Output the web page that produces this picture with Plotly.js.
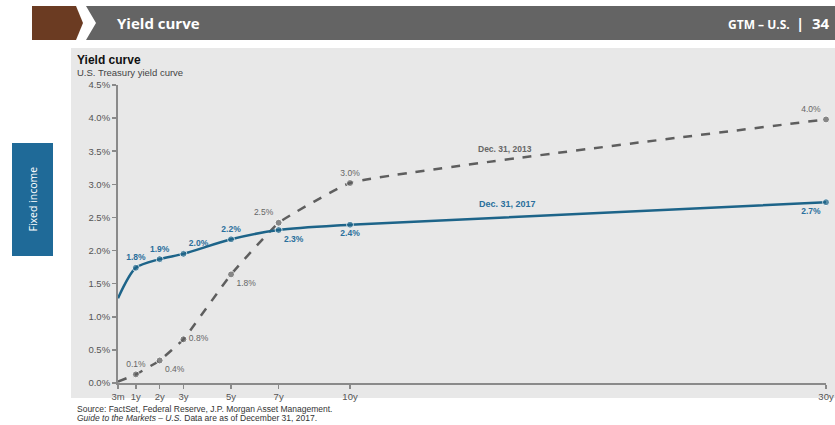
<!DOCTYPE html>
<html><head><meta charset="utf-8">
<script src="https://cdn.plot.ly/plotly-3.0.1.min.js"></script>
<style>html,body{margin:0;padding:0;background:#fff;}#c{width:835px;height:425px;}</style>
</head><body><div id="c"></div>
<script>
// Data
const maturities = [0.25, 1, 2, 3, 5, 7, 10, 30];
const tickLabels = ['3m', '1y', '2y', '3y', '5y', '7y', '10y', '30y'];
const yields2017 = [1.28, 1.74, 1.87, 1.95, 2.17, 2.31, 2.39, 2.73];
const labels2017 = ['', '1.8%', '1.9%', '2.0%', '2.2%', '2.3%', '2.4%', '2.7%'];
const yields2013 = [0.02, 0.13, 0.34, 0.66, 1.64, 2.42, 3.02, 3.98];
const labels2013 = ['', '0.1%', '0.4%', '0.8%', '1.8%', '2.5%', '3.0%', '4.0%'];
const yTicks = [0, 0.5, 1, 1.5, 2, 2.5, 3, 3.5, 4, 4.5];

const W = 835, H = 425;
const L = 118, R = 826, T = 85, B = 383;
const px = x => (x - L) / (R - L);
const py = y => (B - y) / (B - T);
function path(pts) {
  return 'M' + pts.map(p => px(p[0]) + ',' + py(p[1])).join(' L') + ' Z';
}

const blue = '#1d6489';
const gray = '#5e5e5e';
const markerSizes = maturities.map((m, i) => i === 0 ? 0 : 7);

const traces = [
  {
    x: maturities, y: yields2013, text: labels2013, mode: 'lines+markers+text',
    line: {color: gray, width: 2.5, dash: 'dash', shape: 'spline', smoothing: 0.3},
    marker: {color: gray, size: markerSizes},
    textposition: ['top center', 'top center', 'bottom right', 'middle right', 'bottom right', 'top left', 'top center', 'top left'],
    textfont: {family: 'Liberation Sans, Arial', size: 8.5, color: '#666666'},
    cliponaxis: false, hoverinfo: 'none'
  },
  {
    x: maturities, y: yields2017, text: labels2017.map(s => s ? '<b>' + s + '</b>' : ''), mode: 'lines+markers+text',
    line: {color: blue, width: 2.5, shape: 'spline', smoothing: 0.8},
    marker: {color: blue, size: markerSizes},
    textposition: ['top center', 'top center', 'top center', 'top right', 'top center', 'bottom right', 'bottom center', 'bottom left'],
    textfont: {family: 'Liberation Sans, Arial', size: 8.5, color: '#2a6f9c'},
    cliponaxis: false, hoverinfo: 'none'
  }
];

const shapes = [
  {type: 'rect', xref: 'paper', yref: 'paper', x0: px(71), x1: px(835), y0: py(398), y1: py(48), fillcolor: '#e8e8e8', line: {width: 0}, layer: 'below'},
  {type: 'path', xref: 'paper', yref: 'paper', path: path([[32,6],[76,6],[83,23],[76,40],[32,40]]), fillcolor: '#6b3b22', line: {width: 0}},
  {type: 'path', xref: 'paper', yref: 'paper', path: path([[86,6],[835,6],[835,40],[86,40],[96,23]]), fillcolor: '#646464', line: {width: 0}},
  {type: 'rect', xref: 'paper', yref: 'paper', x0: px(12), x1: px(53), y0: py(256), y1: py(143), fillcolor: '#1f6a98', line: {width: 0}}
];

const annotations = [
  {xref: 'paper', yref: 'paper', x: px(115), y: py(23), xanchor: 'left', yanchor: 'middle', showarrow: false,
   text: '<b>Yield curve</b>', font: {family: 'Open Sans, Noto Sans', size: 15, color: '#ffffff'}},
  {xref: 'paper', yref: 'paper', x: px(832), y: py(23), xanchor: 'right', yanchor: 'middle', showarrow: false,
   text: '<b><span style="font-size:12px">GTM – U.S.</span>  <span style="font-size:15px">|  34</span></b>', font: {family: 'Open Sans, Noto Sans', size: 12, color: '#ffffff'}},
  {xref: 'paper', yref: 'paper', x: px(32.5), y: py(199), xanchor: 'center', yanchor: 'middle', showarrow: false, textangle: -90,
   text: 'Fixed income', font: {family: 'Open Sans, Noto Sans', size: 10.5, color: '#ffffff'}},
  {xref: 'paper', yref: 'paper', x: px(75), y: py(60), xanchor: 'left', yanchor: 'middle', showarrow: false,
   text: '<b>Yield curve</b>', font: {family: 'Liberation Sans, Arial', size: 12, color: '#111'}},
  {xref: 'paper', yref: 'paper', x: px(75), y: py(72), xanchor: 'left', yanchor: 'middle', showarrow: false,
   text: 'U.S. Treasury yield curve', font: {family: 'Liberation Sans, Arial', size: 9.5, color: '#444'}},
  {xref: 'x', yref: 'y', x: 16.5, y: 3.53, xanchor: 'center', yanchor: 'middle', showarrow: false,
   text: '<b>Dec. 31, 2013</b>', font: {family: 'Liberation Sans, Arial', size: 8.5, color: '#666'}},
  {xref: 'x', yref: 'y', x: 16.6, y: 2.7, xanchor: 'center', yanchor: 'middle', showarrow: false,
   text: '<b>Dec. 31, 2017</b>', font: {family: 'Liberation Sans, Arial', size: 9, color: '#2a6f9c'}},
  {xref: 'paper', yref: 'paper', x: px(75), y: py(409), xanchor: 'left', yanchor: 'middle', showarrow: false,
   text: 'Source: FactSet, Federal Reserve, J.P. Morgan Asset Management.', font: {family: 'Liberation Sans, Arial', size: 8.5, color: '#333'}},
  {xref: 'paper', yref: 'paper', x: px(75), y: py(418), xanchor: 'left', yanchor: 'middle', showarrow: false,
   text: '<i>Guide to the Markets – U.S.</i> Data are as of December 31, 2017.', font: {family: 'Liberation Sans, Arial', size: 8.5, color: '#333'}}
];

const layout = {
  width: W, height: H,
  margin: {l: L, r: W - R, t: T, b: H - B, pad: 0},
  paper_bgcolor: '#ffffff', plot_bgcolor: 'rgba(0,0,0,0)',
  showlegend: false,
  xaxis: {
    range: [0.25, 30], tickvals: maturities, ticktext: tickLabels,
    showgrid: false, zeroline: false, showline: true, linecolor: '#8a8a8a', linewidth: 2,
    ticks: 'outside', ticklen: 4, tickcolor: '#8a8a8a', tickwidth: 1.5,
    tickfont: {family: 'Liberation Sans, Arial', size: 9.5, color: '#555'}, fixedrange: true
  },
  yaxis: {
    range: [0, 4.5], tickvals: yTicks, ticktext: yTicks.map(v => v.toFixed(1) + '%'),
    showgrid: false, zeroline: false, showline: true, linecolor: '#8a8a8a', linewidth: 2,
    ticks: 'outside', ticklen: 4, tickcolor: '#8a8a8a', tickwidth: 1.5,
    tickfont: {family: 'Liberation Sans, Arial', size: 9.5, color: '#555'}, fixedrange: true
  },
  shapes: shapes, annotations: annotations
};

Plotly.newPlot('c', traces, layout, {staticPlot: true, displayModeBar: false});
</script></body></html>
